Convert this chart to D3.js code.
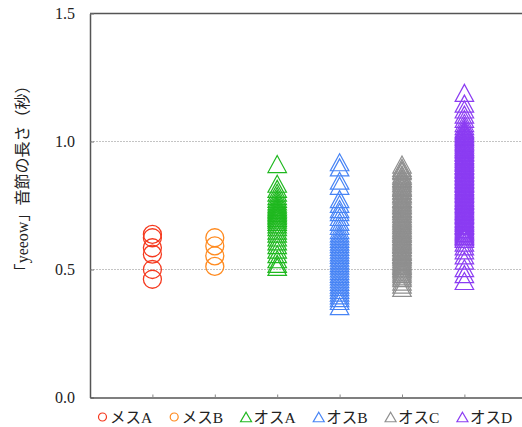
<!DOCTYPE html>
<html><head><meta charset="utf-8">
<script src="https://cdn.jsdelivr.net/npm/d3@7"></script>
<style>body{margin:0;background:#fff}svg{display:block}</style>
</head><body>
<svg id="c" width="522" height="427"></svg>
<script>
const categories = ["メスA","メスB","オスA","オスB","オスC","オスD"];
const shapes = ["circle","circle","triangle","triangle","triangle","triangle"];
const colors = ["#f5391e","#ff8a1f","#1fb81f","#4784f5","#8f8f8f","#8b3cf2"];
const yTicks = [0.0, 0.5, 1.0, 1.5];
const gridValues = [0.5, 1.0];

const femaleA = [0.637, 0.624, 0.585, 0.56, 0.5, 0.462];
const femaleB = [0.624, 0.592, 0.553, 0.512];
const maleA = [0.912, 0.835, 0.815, 0.80, 0.787, 0.776, 0.766, 0.757, 0.75, 0.744, 0.738, 0.732, 0.726, 0.72, 0.714, 0.708, 0.702, 0.695, 0.686, 0.676, 0.665, 0.652, 0.64, 0.625, 0.61, 0.595, 0.578, 0.56, 0.54, 0.522, 0.51];
const maleB = [0.919, 0.899, 0.847, 0.827, 0.775, 0.756, 0.736, 0.724, 0.705, 0.686, 0.67, 0.654, 0.641, 0.63, 0.62, 0.609, 0.599, 0.588, 0.578, 0.567, 0.557, 0.546, 0.536, 0.525, 0.515, 0.504, 0.494, 0.483, 0.473, 0.462, 0.452, 0.441, 0.431, 0.42, 0.41, 0.399, 0.388, 0.377, 0.357];
const maleC = [0.91, 0.897, 0.889, 0.884, 0.871, 0.866, 0.858, 0.853, 0.847, 0.839, 0.836, 0.828, 0.822, 0.819, 0.81, 0.806, 0.797, 0.794, 0.788, 0.779, 0.776, 0.77, 0.763, 0.758, 0.752, 0.749, 0.741, 0.737, 0.73, 0.727, 0.719, 0.716, 0.708, 0.703, 0.699, 0.692, 0.688, 0.681, 0.675, 0.672, 0.664, 0.661, 0.655, 0.648, 0.644, 0.639, 0.631, 0.628, 0.621, 0.617, 0.611, 0.606, 0.6, 0.596, 0.588, 0.585, 0.578, 0.572, 0.569, 0.561, 0.557, 0.551, 0.547, 0.54, 0.534, 0.531, 0.524, 0.519, 0.514, 0.507, 0.503, 0.496, 0.489, 0.482, 0.473, 0.466, 0.453, 0.441, 0.428];
const maleD = [1.19, 1.148, 1.125, 1.105, 1.088, 1.072, 1.06, 1.05, 1.044, 1.039, 1.033, 1.028, 1.021, 1.017, 1.011, 1.004, 0.999, 0.994, 0.988, 0.981, 0.977, 0.971, 0.966, 0.959, 0.955, 0.948, 0.943, 0.938, 0.932, 0.926, 0.921, 0.916, 0.909, 0.905, 0.899, 0.893, 0.889, 0.882, 0.877, 0.871, 0.866, 0.861, 0.854, 0.85, 0.844, 0.838, 0.834, 0.827, 0.822, 0.817, 0.811, 0.806, 0.8, 0.795, 0.789, 0.783, 0.779, 0.772, 0.768, 0.762, 0.756, 0.751, 0.746, 0.74, 0.735, 0.729, 0.724, 0.718, 0.713, 0.708, 0.701, 0.697, 0.691, 0.685, 0.681, 0.674, 0.67, 0.664, 0.658, 0.653, 0.648, 0.642, 0.637, 0.631, 0.626, 0.62, 0.605, 0.59, 0.575, 0.555, 0.535, 0.505, 0.482, 0.455];
const seriesValues = [femaleA, femaleB, maleA, maleB, maleC, maleD];
const yLabel = "「yeeow」音節の長さ（秒）";

(function () {
const svg = d3.select("#c");
const mLeft = 90, mTop = 13.5, mBottom = 397.5;
const y = d3.scaleLinear().domain([0, 1.5]).range([mBottom, mTop]);
const x = d3.scaleLinear().domain([0, categories.length + 1]).range([mLeft, 526.8]);
const font = "'Liberation Serif', 'Noto Sans CJK JP', serif";

svg.append("g").selectAll("line").data(gridValues).join("line")
  .attr("x1", mLeft).attr("x2", 522)
  .attr("y1", d => y(d)).attr("y2", d => y(d))
  .attr("stroke", "#c4c4c4").attr("stroke-width", 1).attr("stroke-dasharray", "2,1");

svg.append("line").attr("x1", mLeft).attr("x2", 522).attr("y1", y(1.5)).attr("y2", y(1.5))
  .attr("stroke", "#555").attr("stroke-width", 1.5);

const yAxis = svg.append("g").attr("transform", `translate(${mLeft},0)`)
  .call(d3.axisLeft(y).tickValues(yTicks).tickFormat(d3.format(".1f")).tickSizeInner(-4).tickSizeOuter(0).tickPadding(15));
yAxis.select(".domain").attr("stroke", "#555").attr("stroke-width", 1.5);
yAxis.selectAll(".tick line").attr("stroke", "#777");
yAxis.selectAll("text").attr("font-family", font).attr("font-size", 16).attr("fill", "#222");

const xAxis = svg.append("g").attr("transform", `translate(0,${mBottom})`)
  .call(d3.axisBottom(x).tickValues(d3.range(1, categories.length + 1)).tickFormat("").tickSizeInner(-3).tickSizeOuter(0));
xAxis.select(".domain").attr("stroke", "#555").attr("stroke-width", 1.5);
xAxis.selectAll(".tick line").attr("stroke", "#888");

svg.append("text").attr("transform", `translate(28,${(mTop + mBottom) / 2 - 27}) rotate(-90)`)
  .attr("text-anchor", "middle").attr("font-family", font).attr("font-size", 16).attr("fill", "#222")
  .text(yLabel);

function triPath(cx, cy, w, h) {
  return `M${cx},${cy - h / 2}L${cx + w / 2},${cy + h / 2}L${cx - w / 2},${cy + h / 2}Z`;
}

seriesValues.forEach((vals, i) => {
  const g = svg.append("g");
  const cx = x(i + 1);
  if (shapes[i] === "circle") {
    g.selectAll("circle").data(vals).join("circle")
      .attr("cx", cx).attr("cy", d => y(d)).attr("r", 9)
      .attr("fill", "none").attr("stroke", colors[i]).attr("stroke-width", 1.3);
  } else {
    g.selectAll("path").data(vals).join("path")
      .attr("d", d => triPath(cx, y(d), 18.5, 17))
      .attr("fill", "none").attr("stroke", colors[i]).attr("stroke-width", 1.2);
  }
});

const lg = svg.append("g").attr("transform", "translate(0,418)");
let lx = 98;
categories.forEach((c, i) => {
  const off = shapes[i] === "circle" ? 12 : 13;
  if (shapes[i] === "circle") {
    lg.append("circle").attr("cx", lx + 4.5).attr("cy", -1).attr("r", 4)
      .attr("fill", "none").attr("stroke", colors[i]).attr("stroke-width", 1.2);
  } else {
    lg.append("path").attr("d", triPath(lx + 5.5, -1, 11, 9.5))
      .attr("fill", "none").attr("stroke", colors[i]).attr("stroke-width", 1.2);
  }
  const t = lg.append("text").attr("x", lx + off).attr("y", 0).attr("dy", "0.35em")
    .attr("font-family", font).attr("font-size", 15.5).attr("fill", "#222").text(c);
  const w = t.node().getComputedTextLength();
  lx = lx + off + w + 17.5;
});
})();
</script>
</body></html>
